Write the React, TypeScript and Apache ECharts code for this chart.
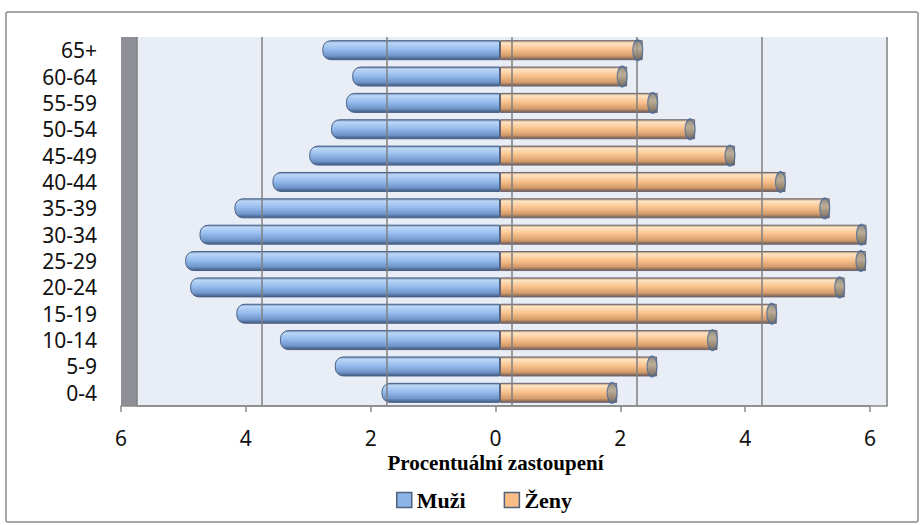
import React, { useEffect, useRef } from "react";
import * as echarts from "echarts";

const ageGroups = ["0-4", "5-9", "10-14", "15-19", "20-24", "25-29", "30-34", "35-39", "40-44", "45-49", "50-54", "55-59", "60-64", "65+"];
const muzi = [1.9, 2.65, 3.53, 4.23, 4.97, 5.05, 4.82, 4.26, 3.65, 3.06, 2.71, 2.47, 2.37, 2.85];
const zeny = [1.88, 2.52, 3.49, 4.44, 5.53, 5.87, 5.88, 5.29, 4.58, 3.77, 3.13, 2.53, 2.04, 2.29];
const axisMin = -6;
const axisMax = 6;
const axisStep = 2;
const axisTitle = "Procentuální zastoupení";
const seriesNames = ["Muži", "Ženy"];

const vgrad = (stops: [number, string][]) =>
  new echarts.graphic.LinearGradient(0, 0, 0, 1, stops.map(([offset, color]) => ({ offset, color })));

export default function App() {
  const ref = useRef<HTMLDivElement>(null);
  useEffect(() => {
    document.body.style.margin = "0";
    document.body.style.overflow = "hidden";
    if (!ref.current) return;
    const chart = echarts.init(ref.current, undefined, { renderer: "svg" });

    const blue = vgrad([
      [0, "#6f8db5"],
      [0.12, "#bcd6f6"],
      [0.45, "#96bdee"],
      [0.8, "#6f95c9"],
      [1, "#3f5880"],
    ]);
    const orange = vgrad([
      [0, "#a88c70"],
      [0.12, "#fee4c4"],
      [0.45, "#fac38e"],
      [0.8, "#d49c6b"],
      [1, "#6c5b55"],
    ]);
    const capGrey = vgrad([
      [0, "#7d7a72"],
      [0.4, "#aaa596"],
      [1, "#6f6a62"],
    ]);

    const serif = "'Liberation Serif', 'Times New Roman', serif";
    const sans = "'Noto Sans', 'Open Sans', sans-serif";
    const top = 37;
    const bottom = 119;

    chart.setOption({
      animation: false,
      backgroundColor: "#ffffff",
      graphic: [
        {
          type: "rect",
          silent: true,
          shape: { x: 6, y: 12, width: 912, height: 510, r: 2 },
          style: { fill: "none", stroke: "#8a8a8a", lineWidth: 1.5 },
        },
      ],
      grid: [
        { left: 121, right: 54, top, bottom, show: true, backgroundColor: "#8e8e96", borderWidth: 0 },
        { left: 137, right: 37, top, bottom, show: true, backgroundColor: "#e8edf6", borderWidth: 0 },
        { left: 126, right: 50, top, bottom, show: false },
      ],
      xAxis: [
        {
          gridIndex: 0,
          type: "value",
          min: axisMin,
          max: axisMax,
          interval: axisStep,
          z: 3,
          axisLine: { show: true, lineStyle: { color: "#8a8a8a", width: 1.5 } },
          axisTick: { show: true, length: 6, lineStyle: { color: "#8a8a8a", width: 1.5 } },
          axisLabel: {
            formatter: (v: number) => String(Math.abs(v)),
            fontSize: 21,
            fontFamily: sans,
            color: "#111111",
            margin: 21,
          },
          splitLine: { show: false },
          name: axisTitle,
          nameLocation: "middle",
          nameGap: 40,
          nameTextStyle: { fontFamily: serif, fontWeight: "bold", fontSize: 21, color: "#000000" },
        },
        {
          gridIndex: 1,
          type: "value",
          min: axisMin,
          max: axisMax,
          interval: axisStep,
          z: 3,
          axisLine: { show: true, lineStyle: { color: "#8a8a8a", width: 1.5 } },
          axisTick: { show: false },
          axisLabel: { show: false },
          splitLine: { show: true, lineStyle: { color: "#7f7f7f", width: 1.5 } },
        },
        { gridIndex: 2, type: "value", min: axisMin, max: axisMax, show: false },
      ],
      yAxis: [
        {
          gridIndex: 0,
          type: "category",
          data: ageGroups,
          axisLine: { show: false },
          axisTick: { show: false },
          axisLabel: { interval: 0, fontSize: 21, lineHeight: 22, fontFamily: sans, color: "#111111", margin: 24 },
          splitLine: { show: false },
        },
        { gridIndex: 1, type: "category", data: ageGroups, show: false },
        { gridIndex: 2, type: "category", data: ageGroups, show: false },
      ],
      legend: {
        left: 396,
        top: 489,
        padding: 0,
        icon: "rect",
        itemWidth: 15,
        itemHeight: 15,
        itemGap: 38,
        textStyle: { fontFamily: serif, fontWeight: "bold", fontSize: 22, color: "#000000" },
        data: [
          { name: seriesNames[0], itemStyle: { color: "#8db4e6", borderColor: "#4f6280", borderWidth: 1.5 } },
          { name: seriesNames[1], itemStyle: { color: "#f9bd86", borderColor: "#4f6280", borderWidth: 1.5 } },
        ],
      },
      series: [
        {
          name: seriesNames[0],
          type: "bar",
          xAxisIndex: 2,
          yAxisIndex: 2,
          stack: "pyramid",
          barWidth: 20,
          data: muzi.map((v) => -v),
          itemStyle: { color: blue, borderColor: "#4a6186", borderWidth: 1, borderRadius: [8, 0, 0, 8] },
        },
        {
          name: seriesNames[1],
          type: "bar",
          xAxisIndex: 2,
          yAxisIndex: 2,
          stack: "pyramid",
          barWidth: 20,
          data: zeny,
          itemStyle: { color: orange, borderColor: "#6e6670", borderWidth: 1 },
        },
        {
          name: "capZ",
          type: "scatter",
          xAxisIndex: 2,
          yAxisIndex: 2,
          symbol: "circle",
          symbolSize: [10, 20],
          symbolOffset: [-5, 0],
          z: 3,
          data: zeny.map((v, i) => [v, ageGroups[i]]),
          itemStyle: { color: capGrey, borderColor: "#4a6a9a", borderWidth: 1.5 },
        },
      ],
    });
    return () => chart.dispose();
  }, []);
  return <div ref={ref} style={{ width: 924, height: 525 }} />;
}
